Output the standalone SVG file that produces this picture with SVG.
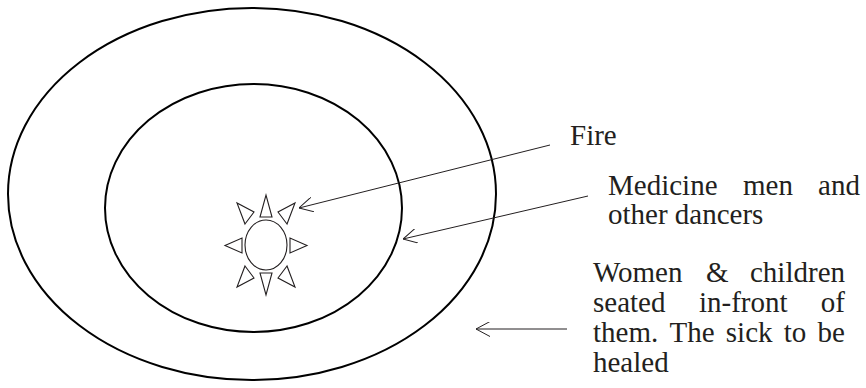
<svg xmlns="http://www.w3.org/2000/svg" width="866" height="388" viewBox="0 0 866 388">
  <style>
    .ring { fill: none; stroke: #000; stroke-width: 2; }
    .sun { fill: none; stroke: #231f20; stroke-width: 1.1; stroke-linejoin: miter; }
    .conn { fill: none; stroke: #231f20; stroke-width: 1; }
    .lbl { font-family: "Liberation Serif", "Times New Roman", serif; font-size: 29px; fill: #231f20; }
  </style>
  <defs>
    <marker id="arrow" viewBox="0 0 14 15" refX="14" refY="7.5" markerWidth="14" markerHeight="15" markerUnits="userSpaceOnUse" orient="auto">
      <path d="M0,0 L14,7.5 L0,15" fill="none" stroke="#231f20" stroke-width="1"/>
    </marker>
  </defs>

  <g id="outer-ring">
    <ellipse class="ring" cx="252" cy="194" rx="244" ry="186"/>
  </g>
  <g id="inner-ring">
    <ellipse class="ring" cx="253.5" cy="208" rx="148.5" ry="124"/>
  </g>
  <g id="fire">
    <ellipse class="sun" cx="266" cy="245" rx="21" ry="25"/>
    <polygon class="sun" points="260,217 272,217 266,195"/>
    <polygon class="sun" points="260,273 272,273 266,295"/>
    <polygon class="sun" points="242,238 242,253 225,245.5"/>
    <polygon class="sun" points="290,238 290,253 307,245.5"/>
    <polygon class="sun" points="287,266 278,278 295,287"/>
    <polygon class="sun" points="245,266 254,278 237,287"/>
    <polygon class="sun" points="287,224 278,212 295,203"/>
    <polygon class="sun" points="245,224 254,212 237,203"/>
  </g>

  <g id="connectors">
    <line class="conn" x1="550" y1="145" x2="299" y2="208" marker-end="url(#arrow)"/>
    <line class="conn" x1="588" y1="196" x2="403" y2="239" marker-end="url(#arrow)"/>
    <line class="conn" x1="567" y1="329" x2="476" y2="329" marker-end="url(#arrow)"/>
  </g>

  <g id="label-fire">
    <text class="lbl" x="570" y="145">Fire</text>
  </g>
  <g id="label-medicine">
    <text class="lbl" y="195"><tspan x="608">Medicine</tspan><tspan x="743">men</tspan><tspan x="818.1">and</tspan></text>
    <text class="lbl" x="608" y="224">other dancers</text>
  </g>
  <g id="label-women">
    <text class="lbl" y="282"><tspan x="593">Women</tspan><tspan x="706">&amp;</tspan><tspan x="750">children</tspan></text>
    <text class="lbl" y="312"><tspan x="593">seated</tspan><tspan x="699">in-front</tspan><tspan x="820.8">of</tspan></text>
    <text class="lbl" y="342"><tspan x="593">them.</tspan><tspan x="669.5">The</tspan><tspan x="725.8">sick</tspan><tspan x="783.8">to</tspan><tspan x="817.6">be</tspan></text>
    <text class="lbl" x="593" y="372">healed</text>
  </g>
</svg>
